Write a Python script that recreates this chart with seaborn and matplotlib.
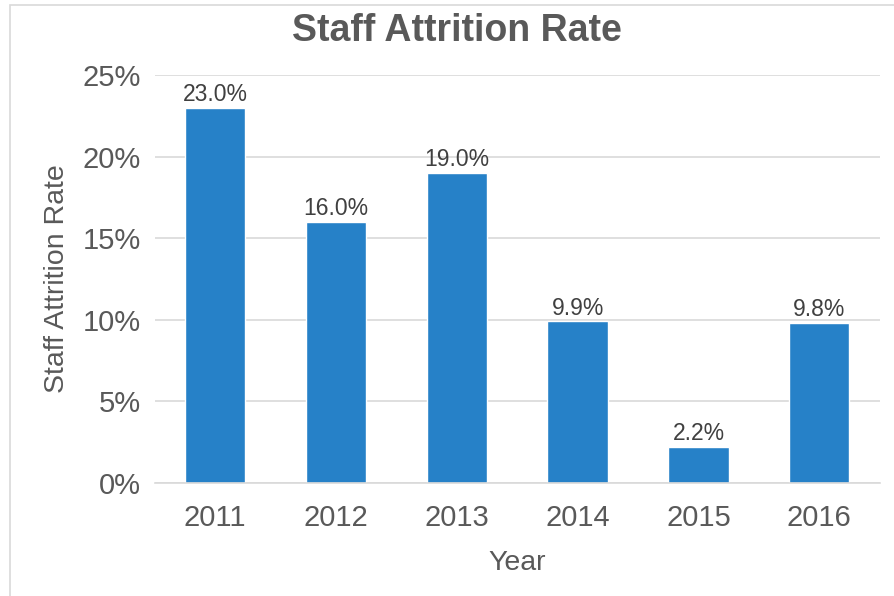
import matplotlib
matplotlib.use("Agg")
import matplotlib.pyplot as plt
import pandas as pd
import seaborn as sns
from matplotlib.patches import Rectangle
from matplotlib.ticker import FuncFormatter

years = ["2011", "2012", "2013", "2014", "2015", "2016"]
rates = [23.0, 16.0, 19.0, 9.9, 2.2, 9.8]

df = pd.DataFrame({"Year": years, "Rate": rates})

sns.set_theme(style="white")
plt.rcParams["font.family"] = ["Liberation Sans", "DejaVu Sans"]

text_color = "#595959"
bar_color = "#2681C8"

fig = plt.figure(figsize=(8.94, 5.96), dpi=100)
ax = fig.add_axes([0.173, 0.19, 0.811, 0.684])

sns.barplot(data=df, x="Year", y="Rate", color=bar_color, width=0.5,
            saturation=1, ax=ax)

for p, v in zip(ax.patches, rates):
    ax.text(p.get_x() + p.get_width() / 2, v + 0.1, f"{v:.1f}%",
            ha="center", va="bottom", fontsize=16.5, color="#404040")

ax.set_ylim(0, 25)
ax.set_xlim(-0.5, 5.5)
ax.set_yticks([0, 5, 10, 15, 20, 25])
ax.yaxis.set_major_formatter(FuncFormatter(lambda v, _: f"{v:.0f}%"))
ax.grid(axis="y", color="#D9D9D9", linewidth=1.2)
ax.set_axisbelow(True)
for s in ["top", "right", "left"]:
    ax.spines[s].set_visible(False)
ax.spines["bottom"].set_color("#D9D9D9")
ax.spines["bottom"].set_linewidth(1.2)
ax.tick_params(axis="both", labelsize=21, colors=text_color, length=0)
ax.tick_params(axis="y", pad=10)
ax.tick_params(axis="x", pad=15)

ax.set_xlabel("Year", fontsize=20.5, color=text_color, labelpad=13)
ax.set_ylabel("Staff Attrition Rate", fontsize=20.5, color=text_color, labelpad=9)
fig.suptitle("Staff Attrition Rate", fontsize=27, fontweight="bold",
             color=text_color, x=0.511, y=0.978)

fig.patches.append(Rectangle((10 / 894, -0.1), 1.2, 1.1 - 5 / 596,
                             transform=fig.transFigure, fill=False,
                             edgecolor="#D9D9D9", linewidth=1.2))

fig.savefig("out.png", dpi=100)
